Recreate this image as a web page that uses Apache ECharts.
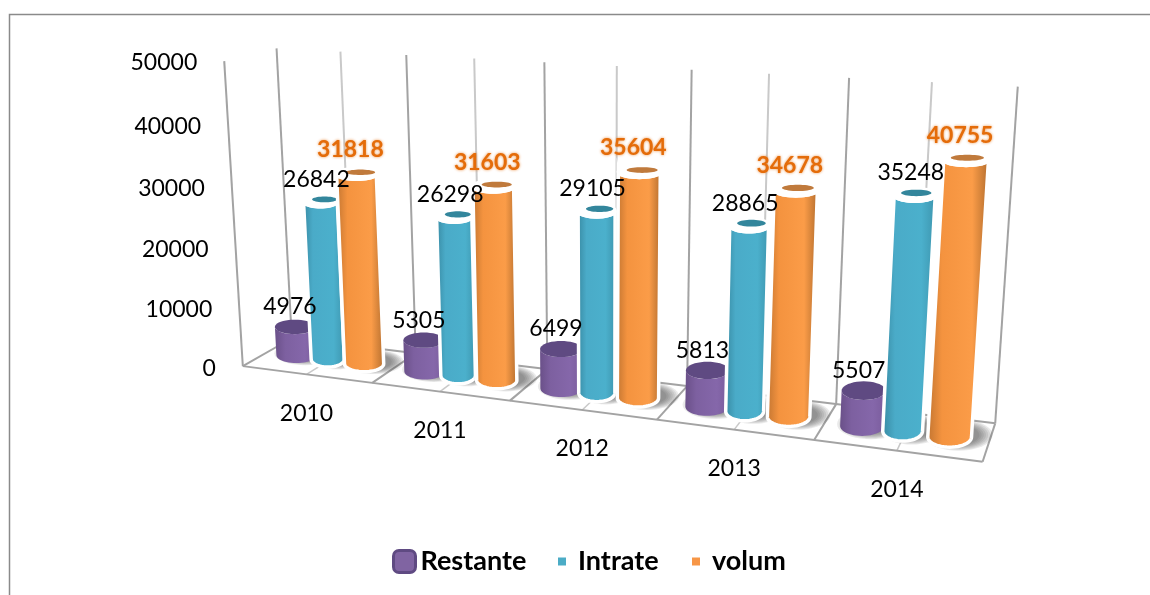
<!DOCTYPE html>
<html><head><meta charset="utf-8">
<style>html,body{margin:0;padding:0;background:#fff}#c{width:1150px;height:595px}</style>
<script src="https://cdn.jsdelivr.net/npm/echarts@6/dist/echarts.min.js"></script>
</head><body><div id="c"></div>
<script>
const categories = ['2010','2011','2012','2013','2014'];
const restante = [4976,5305,6499,5813,5507];
const intrate  = [26842,26298,29105,28865,35248];
const volum    = [31818,31603,35604,34678,40755];
const yTicks   = [0,10000,20000,30000,40000,50000];
const seriesNames = ['Restante','Intrate','volum'];

/* camera calibration: how the (category, depth, height) box sits on the page */
const frontFloor = [[243,367],[375,382],[510,400],[657,420],[814,440],[982,462]];
const backFloor  = [[292,339],[414,353],[546,369],[685,386],[837,404],[997,423]];
const backTop    = [[278,48],[407,55],[545,62],[692,70],[849,78],[1017,87]];
const frontTopLeft = [223,61];

function solveCamera(){
  const rows=[], rhs=[];
  const add=(X,Y,Z,p)=>{
    rows.push([X,Y,Z,1,0,0,0,0,-p[0]*X,-p[0]*Y,-p[0]*Z]); rhs.push(p[0]);
    rows.push([0,0,0,0,X,Y,Z,1,-p[1]*X,-p[1]*Y,-p[1]*Z]); rhs.push(p[1]);
  };
  frontFloor.forEach((p,i)=>add(i,0,0,p));
  backFloor.forEach((p,i)=>add(i,1,0,p));
  backTop.forEach((p,i)=>add(i,1,1,p));
  add(0,0,1,frontTopLeft); add(0,0,1,frontTopLeft);
  const n=11, A=[];
  for(let i=0;i<n;i++){A.push(new Array(n+1).fill(0));}
  rows.forEach((r,k)=>{for(let i=0;i<n;i++){for(let j=0;j<n;j++)A[i][j]+=r[i]*r[j];A[i][n]+=r[i]*rhs[k];}});
  for(let i=0;i<n;i++){
    let m=i;for(let k=i+1;k<n;k++)if(Math.abs(A[k][i])>Math.abs(A[m][i]))m=k;
    [A[i],A[m]]=[A[m],A[i]];
    for(let k=0;k<n;k++){if(k===i)continue;const f=A[k][i]/A[i][i];for(let j=i;j<=n;j++)A[k][j]-=f*A[i][j];}
  }
  return A.map((r,i)=>r[n]/r[i]);
}
const P = solveCamera();
function proj(c,d,v){
  const w=P[8]*c+P[9]*d+P[10]*v+1;
  return [(P[0]*c+P[1]*d+P[2]*v+P[3])/w,(P[4]*c+P[5]*d+P[6]*v+P[7])/w];
}

const G={left:100,top:100,width:500,height:300};
function norm(api,i,val){
  const p=api.coord([i,val]);
  return [(p[0]-G.left)/G.width*categories.length,(G.top+G.height-p[1])/G.height];
}
const FONT='Lato';
const looks=[
 {off:-0.27,r:.14,rd:.27,wa:13,wb:.4,grad:['#6a5089','#7d60a0','#8567aa','#7a5c9c'],top:'#5f4a82',rim:false},
 {off:-0.02,r:.125,rd:.27,wa:5.2,wb:.72,grad:['#36869e','#4aabc8','#4bb0cc','#3c93ac'],top:'#33869c',rim:true},
 {off:0.265,r:.148,rd:.27,wa:12,wb:.4,grad:['#bd7230','#f4933f','#fb9c48','#ae6a2c'],top:'#c07a3c',rim:true}
];
/* level ellipse around a projected circle centre */
function ell(L,c,d,v,k,rdk,from,to,steps){
  const r=L.r, rd=L.rd*rdk, C=proj(c,d,v), a=proj(c-r,d,v), b=proj(c+r,d,v), f=proj(c,d-rd,v), g=proj(c,d+rd,v);
  const rx=(L.wa+L.wb*(b[0]-a[0])/2)*k, ry=Math.abs(f[1]-g[1])/2, out=[];
  for(let q=0;q<=steps;q++){const t=from+(to-from)*q/steps;out.push([C[0]+rx*Math.cos(t),C[1]-ry*Math.sin(t)]);}
  return out;
}
const softSteps=[1.55,1.45,1.35,1.25,1.15,1.05,.95];
function cylinder(s){
  const L=looks[s];
  return function(params,api){
    const n=norm(api,api.value(0),api.value(1));
    const c=n[0]+L.off, v=n[1], d=0.5, kids=[];
    softSteps.forEach(k=>{
      const base=ell(L,c,d,0,k,k,0,Math.PI*2,40);
      kids.push({type:'polygon',shape:{points:base.map(p=>[p[0]+9,p[1]-2])},style:{fill:'rgba(60,60,60,0.11)'}});
    });
    const body=ell(L,c,d,0,1,1,0,-Math.PI,24).concat(ell(L,c,d,v,1,1,-Math.PI,0,24));
    kids.push({type:'polygon',shape:{points:body},style:{
      fill:{type:'linear',x:0,y:0,x2:1,y2:0,colorStops:[
        {offset:0,color:L.grad[0]},{offset:.25,color:L.grad[1]},{offset:.72,color:L.grad[2]},{offset:1,color:L.grad[3]}]},
      stroke:L.rim?'#ffffff':'rgba(0,0,0,0)',lineWidth:L.rim?3.5:0}});
    const top=ell(L,c,d,v,1,1,0,Math.PI*2,40);
    if(L.rim){
      kids.push({type:'polygon',shape:{points:top},style:{fill:'#fff',stroke:'#fff',lineWidth:3.5}});
      const inner=ell(L,c,d+L.rd*.32,v,.74,.52,0,Math.PI*2,40);
      kids.push({type:'polygon',shape:{points:inner},style:{fill:L.top}});
    }else{
      kids.push({type:'polygon',shape:{points:top},style:{fill:L.top}});
    }
    return {type:'group',children:kids};
  };
}
function frameItem(){
  const kids=[]; const n=categories.length;
  const line=(a,b,col,w)=>kids.push({type:'line',shape:{x1:a[0],y1:a[1],x2:b[0],y2:b[1]},style:{stroke:col,lineWidth:w}});
  const dark='#a3a3a3', light='#c9c9c9';
  line(proj(0,0,0),proj(0,0,1),dark,2);
  for(let i=0;i<=n;i++){
    line(proj(i,1,0),proj(i,1,1),dark,2);
    line(proj(i,0,0),proj(i,1,0),dark,2);
    if(i<n){ line(proj(i+.5,1,0),proj(i+.5,1,1),light,2); line(proj(i+.5,0,0),proj(i+.5,1,0),light,1.5); }
  }
  line(proj(0,0,0),proj(n,0,0),dark,2);
  line(proj(0,1,0),proj(n,1,0),dark,2);
  kids.push({type:'polyline',shape:{points:[[1150,14.5],[9.5,14.5],[9.5,595]]},style:{stroke:'#8a8a8a',lineWidth:1.5,fill:'none'}});
  return {type:'group',children:kids};
}
const txt=(x,y,t,o)=>({type:'text',style:Object.assign({x:x,y:y+2,text:t,fill:'#000',fontSize:23,fontFamily:FONT,align:'center',verticalAlign:'middle'},o||{})});

const labelOffset=[[-5,-22],[-4,-24],[-6,-26]];
const labelRows=[];
[restante,intrate,volum].forEach((arr,s)=>arr.forEach((val,i)=>labelRows.push([i,val,s])));
const legendText={fontFamily:FONT,fontWeight:'bold',fontSize:27,color:'#000'};

const opt={
  animation:false,
  backgroundColor:'#fff',
  grid:Object.assign({show:false},G),
  xAxis:{type:'category',data:categories,show:false},
  yAxis:{type:'value',min:0,max:50000,interval:10000,show:false,splitLine:{show:false}},
  legend:[
    {data:[{name:'Restante',icon:'roundRect',itemStyle:{color:'#8064a2',borderColor:'#5f4a82',borderWidth:3}}],left:392,top:548,itemWidth:22,itemHeight:22,selectedMode:false,padding:0,textStyle:legendText},
    {data:[{name:'Intrate',icon:'rect',itemStyle:{color:'#4bacc6',borderWidth:0}}],left:558,top:548,itemWidth:8,itemHeight:8,selectedMode:false,padding:0,textStyle:Object.assign({padding:[0,0,0,7]},legendText)},
    {data:[{name:'volum',icon:'rect',itemStyle:{color:'#f79646',borderWidth:0}}],left:692,top:548,itemWidth:8,itemHeight:8,selectedMode:false,padding:0,textStyle:Object.assign({padding:[0,0,0,7]},legendText)}
  ],
  series:[
    {type:'custom',name:'frame',z:1,silent:true,data:[[0,0]],encode:{x:0,y:1},renderItem:frameItem},
    ...[restante,intrate,volum].map((arr,s)=>({
      type:'custom',name:seriesNames[s],z:2,silent:true,
      itemStyle:{color:['#8064a2','#4bacc6','#f79646'][s]},
      encode:{x:0,y:1},data:arr.map((v,i)=>[i,v]),renderItem:cylinder(s)
    })),
    {type:'custom',name:'yTicks',z:5,silent:true,encode:{x:0,y:1},data:yTicks.map(t=>[0,t]),
     renderItem(params,api){
       const n=norm(api,0,api.value(1)),p=proj(0,0,n[1]);
       return txt(p[0]-27,p[1],String(api.value(1)),{align:'right'});
     }},
    {type:'custom',name:'xTicks',z:5,silent:true,encode:{x:0,y:1},data:categories.map((c,i)=>[i,0]),
     renderItem(params,api){
       const i=api.value(0),n=norm(api,i,0),p=proj(n[0],0,0);
       return txt(p[0],p[1]+37,categories[i]);
     }},
    {type:'custom',name:'valueLabels',z:6,silent:true,encode:{x:0,y:1},data:labelRows,
     renderItem(params,api){
       const i=api.value(0),val=api.value(1),s=api.value(2),n=norm(api,i,val),
         p=proj(n[0]+looks[s].off,.5,n[1]),o=labelOffset[s];
       const st=s===2?{fill:'#e46c0a',fontWeight:'bold',fontSize:23,textShadowColor:'rgba(228,108,10,0.75)',textShadowBlur:3}:{};
       return txt(p[0]+o[0],p[1]+o[1],String(val),st);
     }}
  ]
};
echarts.init(document.getElementById('c'),null,{renderer:'canvas'}).setOption(opt);
</script></body></html>
